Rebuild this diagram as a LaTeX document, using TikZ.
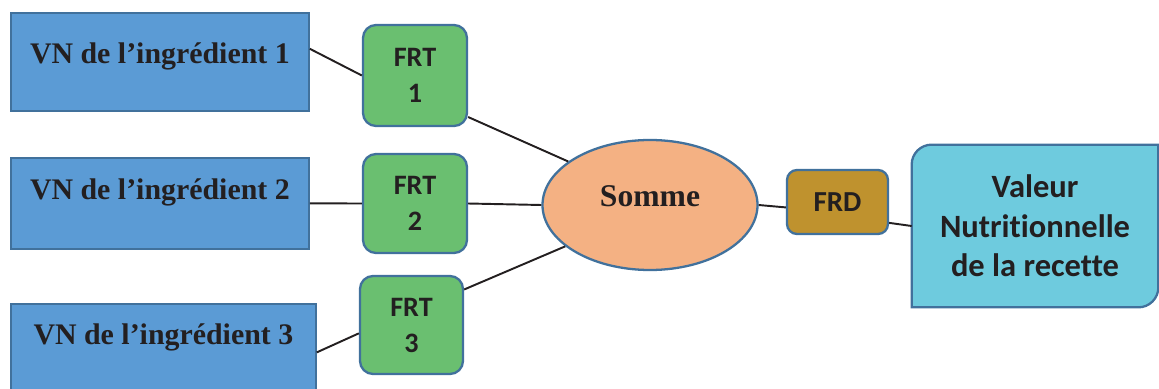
\documentclass[tikz,border=0pt]{standalone}
\usepackage{fontspec}
\setmainfont{Liberation Serif}
\newfontfamily\calfont[Ligatures=NoCommon]{Carlito}
\usetikzlibrary{shapes.geometric,backgrounds}

\definecolor{vnblue}{RGB}{91,155,213}
\definecolor{edgeblue}{RGB}{65,113,156}
\definecolor{frtgreen}{RGB}{106,191,112}
\definecolor{sommeorange}{RGB}{244,177,131}
\definecolor{frdgold}{RGB}{191,146,46}
\definecolor{valcyan}{RGB}{110,203,222}
\definecolor{inkc}{RGB}{35,31,32}

\begin{document}
\begin{tikzpicture}[
  vnbox/.style={rectangle, draw=edgeblue, line width=1pt, fill=vnblue, minimum width=5.96cm,
    inner sep=0pt, text=inkc, font=\fontsize{17}{20}\selectfont\bfseries},
  frtbox/.style={rectangle, rounded corners=0.26cm, draw=edgeblue, line width=1.3pt, fill=frtgreen,
    align=center, inner sep=0pt, minimum width=2.08cm, minimum height=2.02cm, text=inkc,
    font=\calfont\fontsize{16}{20.5}\selectfont\bfseries},
  link/.style={line width=1.1pt, draw=inkc}
]
\clip (0,0) rectangle (23.18,7.76);

% Ingredient blocks
\node[vnbox, anchor=north west, text height=1.01cm, text depth=0.95cm] (vn1) at (0.20,7.52) {VN de l’ingrédient 1};
\node[vnbox, anchor=north west, text height=0.83cm, text depth=0.99cm] (vn2) at (0.20,4.62) {VN de l’ingrédient 2};
\node[vnbox, anchor=north west, text height=0.81cm, text depth=1.13cm, minimum width=6.1cm] (vn3) at (0.20,1.70) {VN de l’ingrédient 3};

% FRT blocks
\node[frtbox] (frt1) at (8.30,6.25) {FRT\\1};
\node[frtbox, minimum height=1.98cm] (frt2) at (8.30,3.69) {FRT\\2};
\node[frtbox, minimum width=2.06cm, minimum height=1.96cm] (frt3) at (8.23,1.26) {FRT\\3};

% Sum
\node[ellipse, draw=edgeblue, line width=1.3pt, fill=sommeorange, inner sep=0pt,
  minimum width=4.30cm, minimum height=2.6cm, text depth=0.36cm, text=inkc,
  font=\fontsize{18}{20}\selectfont\bfseries] (somme) at (13.0,3.66) {Somme};

% FRD block
\node[frtbox, fill=frdgold, rounded corners=0.2cm, minimum width=2.02cm, minimum height=1.28cm,
  font=\calfont\fontsize{16.5}{20}\selectfont\bfseries] (frd) at (16.75,3.72) {FRD};

% Result
\node[align=center, inner sep=0pt, minimum width=4.92cm, minimum height=3.24cm, text=inkc,
  font=\calfont\fontsize{18.5}{22.4}\selectfont\bfseries] (val) at (20.70,3.24) {Valeur\\Nutritionnelle\\de la recette};
\begin{scope}[on background layer]
\draw[draw=edgeblue, line width=1.3pt, fill=valcyan] (val.south west) -- ([yshift=-0.4cm]val.north west)
  arc[start angle=180, end angle=90, radius=0.4cm] -- (val.north east) -- ([yshift=0.4cm]val.south east)
  arc[start angle=0, end angle=-90, radius=0.4cm] -- cycle;
\end{scope}

% Connections
\draw[link] (vn1.5) -- (frt1.west);
\draw[link] (vn2.east) -- (frt2.west);
\draw[link] (vn3.east) -- (frt3.189);
\draw[link] (frt1.-38) -- (somme.152);
\draw[link] (frt2.east) -- (somme.west);
\draw[link] (frt3.34) -- (somme.206);
\draw[link] (somme.east) -- (frd.186);
\draw[link] (frd.-22) -- (val.west);

\end{tikzpicture}
\end{document}
